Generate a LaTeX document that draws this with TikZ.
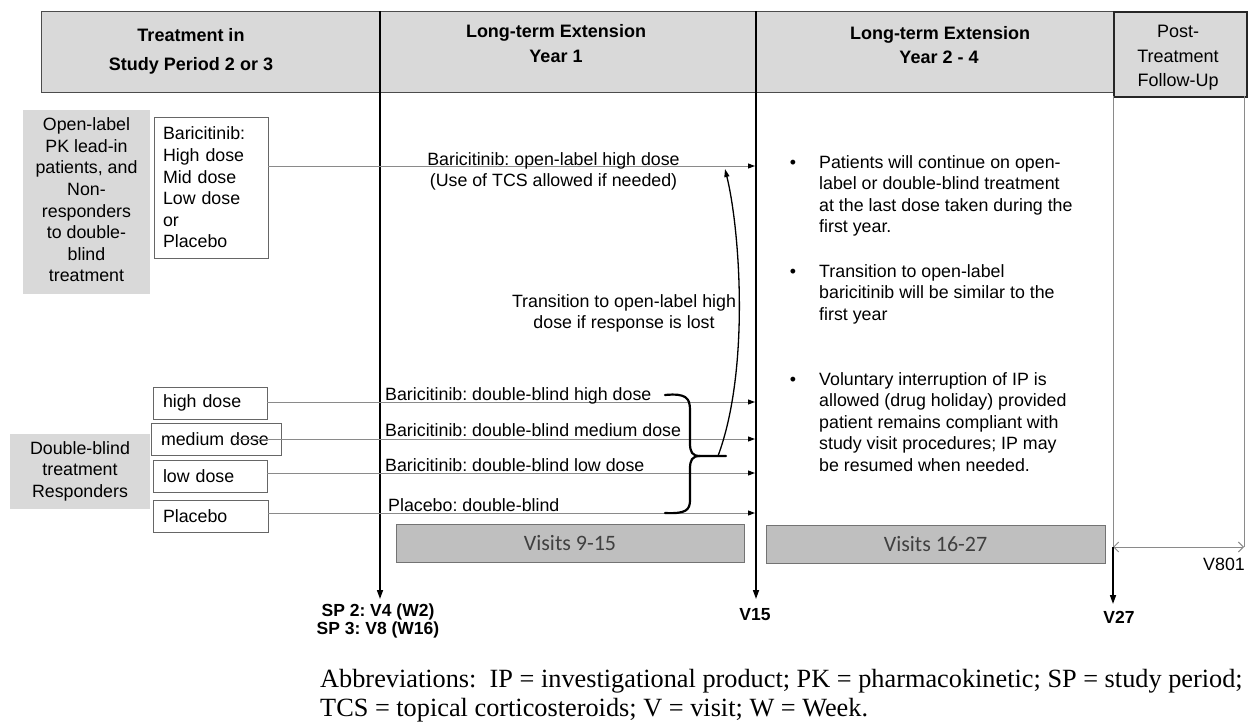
\documentclass[tikz,border=0pt]{standalone}
\usepackage{fontspec}
\setmainfont{Liberation Sans}
\newfontfamily\serifabbr{Liberation Serif}
\newfontfamily\calib{Carlito}
\usetikzlibrary{arrows.meta}
\definecolor{hdrgray}{HTML}{D9D9D9}
\definecolor{visgray}{HTML}{BFBFBF}
\definecolor{linegray}{HTML}{8A8A8A}
\definecolor{txtgray}{HTML}{404040}
\newcommand{\fsz}{\fontsize{17.8}{21.6}\selectfont}
\newcommand{\lblk}[1]{\begin{tabular}[t]{@{}l@{}}#1\end{tabular}}
\newcommand{\cblk}[1]{\begin{tabular}[t]{@{}c@{}}#1\end{tabular}}
\frenchspacing
\begin{document}
\begin{tikzpicture}[x=1pt,y=-1pt,
  every node/.style={inner sep=0pt, font=\fsz},
  hbar/.style={draw=black!70, line width=1pt, fill=hdrgray},
  hdrtxt/.style={font=\fontsize{18}{22}\selectfont\bfseries, anchor=base},
  posttxt/.style={font=\fontsize{18}{22}\selectfont, anchor=base},
  graybox/.style={fill=hdrgray, align=center},
  dosebox/.style={draw=black!60, line width=0.8pt, fill=white, align=left, inner xsep=10pt, minimum height=32pt},
  vline/.style={line width=1.6pt, -{Triangle[length=9pt,width=6pt]}},
  glinearr/.style={draw=linegray, line width=1pt, -{Triangle[length=7pt,width=5pt,color=black]}},
  lbl/.style={anchor=base west},
  clbl/.style={anchor=base},
  visbox/.style={draw=black!55, line width=0.8pt, fill=visgray, font=\calib\fontsize{22}{26}\selectfont, text=txtgray},
  vlab/.style={font=\fontsize{17.5}{18}\selectfont\bfseries, anchor=base}
]
\useasboundingbox (0,0) rectangle (1249,723);
\fill[white] (0,0) rectangle (1249,723);

% ---- header ----
\node[hbar, minimum width=1072pt, minimum height=81pt, anchor=north west] (hdr) at (41,11) {};
\node[hbar, draw=black!85, line width=2pt, minimum width=133pt, minimum height=85pt, anchor=north west] (post) at (1113,11) {};
\node[hdrtxt] (h1a) at (191,41) {Treatment in};
\node[hdrtxt] (h1b) at (191,70) {Study Period 2 or 3};
\node[hdrtxt] (h2a) at (556,37) {Long-term Extension};
\node[hdrtxt] (h2b) at (556,62) {Year 1};
\node[hdrtxt] (h3a) at (940,39) {Long-term Extension};
\node[hdrtxt] (h3b) at (939,63) {Year 2 - 4};
\node[posttxt] (h4a) at (1178,37) {Post-};
\node[posttxt] (h4b) at (1178,62) {Treatment};
\node[posttxt] (h4c) at (1178,86) {Follow-Up};

% ---- time lines ----
\coordinate (vA0) at (380,11);  \coordinate (vA1) at (380,599);
\coordinate (vB0) at (756,11);  \coordinate (vB1) at (756,599);
\draw[vline] (vA0) -- (vA1);
\draw[vline] (vB0) -- (vB1);
\coordinate (pL0) at (1113,96); \coordinate (pL1) at (1113,547);
\coordinate (pR0) at (1244,96); \coordinate (pR1) at (1244,547);
\coordinate (pV27) at (1113,604);
\draw[linegray, line width=1pt] (pL0) -- (pL1);
\draw[linegray, line width=1pt] (pR0) -- (pR1);
\draw[linegray, line width=1pt, {Straight Barb[length=5pt,width=10pt]}-{Straight Barb[length=5pt,width=10pt]}] (pL1) -- (pR1);
\draw[vline] (pL1) -- (pV27);

% ---- left side ----
\node[graybox, minimum width=127pt, minimum height=184pt] (ol) at (86.5,202)
  {\cblk{Open-label\\PK lead-in\\patients, and\\Non-\\responders\\to double-\\blind\\treatment}};
\node[dosebox, inner xsep=9pt, text width=96pt, minimum height=141pt] (bar) at (211,187.5)
  {Baricitinib:\\High dose\\Mid dose\\Low dose\\or\\Placebo};
\node[graybox, minimum width=140pt, minimum height=75pt] (db) at (80,471.5)
  {\cblk{Double-blind\\treatment\\Responders}};
\node[dosebox, text width=94pt] (hd) at (210,403) {high dose};
\node[dosebox, text width=110pt] (md) at (216,439) {medium dose};
\node[dosebox, text width=94pt] (ld) at (210,476.5) {low dose};
\node[dosebox, text width=95pt] (pl) at (210.5,516) {Placebo};

% ---- arrows into V15 ----
\coordinate (olEnd) at (755,166);
\coordinate (hdEnd) at (755,402);
\coordinate (mdStart) at (236,439);
\coordinate (mdEnd) at (755,439);
\coordinate (ldEnd) at (755,473);
\coordinate (plEnd) at (755,513);
\draw[glinearr] (bar.east |- olEnd) -- (olEnd);
\draw[glinearr] (hd.east |- hdEnd) -- (hdEnd);
\draw[glinearr] (mdStart) -- (mdEnd);
\draw[glinearr] (ld.east |- ldEnd) -- (ldEnd);
\draw[glinearr] (pl.east |- plEnd) -- (plEnd);

\node[clbl] (oltxt) at (553.5,165) {\cblk{Baricitinib: open-label high dose\\(Use of TCS allowed if needed)}};
\node[lbl] (hdtxt) at (385,400) {Baricitinib: double-blind high dose};
\node[lbl] (mdtxt) at (385,436) {Baricitinib: double-blind medium dose};
\node[lbl] (ldtxt) at (385,471) {Baricitinib: double-blind low dose};
\node[lbl] (pltxt) at (388,511) {Placebo: double-blind};

% ---- brace and transition ----
\draw[line width=2.2pt, line cap=round]
  (665,395) .. controls (686,393) and (690,398) .. (690,410) -- (690,443)
  .. controls (690,452) and (692,456) .. (700,456) -- (726,456);
\draw[line width=2.2pt, line cap=round]
  (700,456) .. controls (692,456) and (690,460) .. (690,469) -- (690,500)
  .. controls (690,510) and (686,514) .. (665,513);
\coordinate (brtip) at (718,456);
\coordinate (oltgt) at (725,169);
\draw[line width=1.3pt, -{Triangle[length=8pt,width=5pt]}]
  (brtip) .. controls (750,370) and (740,230) .. (oltgt);
\node[clbl] (trtxt) at (624,307) {\cblk{Transition to open-label high\\dose if response is lost}};

% ---- visits ----
\node[visbox, minimum width=348pt, minimum height=38pt] (vis1) at (570,543) {Visits 9-15};
\node[visbox, minimum width=339pt, minimum height=38pt] (vis2) at (935.5,544) {Visits 16-27};

% ---- right column ----
\node[clbl] (b1) at (793,168) {•};
\node[lbl] (p1) at (819,168) {\lblk{Patients will continue on open-\\label or double-blind treatment\\at the last dose taken during the\\first year.}};
\node[clbl] (b2) at (793,277) {•};
\node[lbl] (p2) at (819,277) {\lblk{Transition to open-label\\baricitinib will be similar to the\\first year}};
\node[clbl] (b3) at (793,385) {•};
\node[lbl] (p3) at (819,385) {\lblk{Voluntary interruption of IP is\\allowed (drug holiday) provided\\patient remains compliant with\\study visit procedures; IP may\\be resumed when needed.}};

% ---- visit labels ----
\node[vlab] (sp2) at (378,616) {SP 2: V4 (W2)};
\node[vlab] (sp3) at (378,634) {SP 3: V8 (W16)};
\node[vlab] (v15) at (755,620) {V15};
\node[vlab] (v27) at (1119,623) {V27};
\node[anchor=base east] (v801) at (1245,570) {V801};

% ---- abbreviations ----
\node[lbl, font=\serifabbr\fontsize{26.3}{29}\selectfont] (abbr) at (320,687)
  {\lblk{Abbreviations:\ \ IP = investigational product; PK = pharmacokinetic; SP = study period;\\TCS = topical corticosteroids; V = visit; W = Week.}};
\end{tikzpicture}
\end{document}
